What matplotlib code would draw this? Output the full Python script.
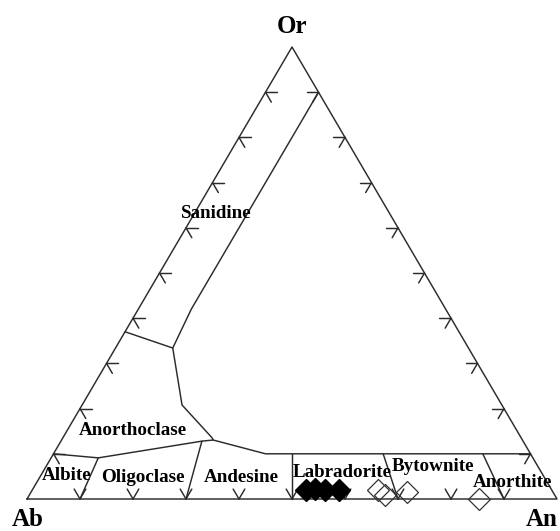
import numpy as np
import matplotlib.pyplot as plt

# feldspar ternary: An (right), Ab (left), Or (top); points given as (An, Or)
sanidine_line = [(0.10, 0.90), (0.10, 0.42), (0.108, 0.334), (0.1885, 0.208), (0.282, 0.135), (0.286, 0.1305)]
sanidine_anorthoclase = [(0.0, 0.37), (0.108, 0.334)]
anorthoclase_base = [(0.0, 0.10), (0.089, 0.091), (0.266, 0.128), (0.286, 0.1305), (0.40, 0.10), (0.90, 0.10)]
plag_dividers = [
    [(0.089, 0.091), (0.10, 0.0)],   # albite / oligoclase
    [(0.266, 0.128), (0.30, 0.0)],   # oligoclase / andesine
    [(0.45, 0.10), (0.50, 0.0)],     # andesine / labradorite
    [(0.622, 0.10), (0.70, 0.0)],    # labradorite / bytownite
    [(0.81, 0.10), (0.90, 0.0)],     # bytownite / anorthite
]

# analysed feldspars
filled_an = [0.516, 0.533, 0.552, 0.578]
filled_or = [0.020, 0.022, 0.020, 0.020]
open_an = [0.652, 0.671, 0.709, 0.853]
open_or = [0.020, 0.009, 0.0155, 0.0]

names = ['Sanidine', 'Anorthoclase', 'Albite', 'Oligoclase', 'Andesine',
         'Labradorite', 'Bytownite', 'Anorthite']
name_pos = [(0.046, 0.622), (0.129, 0.1416), (0.0545, 0.042), (0.200, 0.0376),
            (0.385, 0.0376), (0.570, 0.0487), (0.735, 0.062), (0.902, 0.0265)]

ticks = np.arange(1, 10) / 10


def tern(an, orr):
    an = np.asarray(an, dtype=float)
    orr = np.asarray(orr, dtype=float)
    return an + orr / 2, orr


line_kw = dict(color='#2b2b2b', lw=1.05, solid_capstyle='round')
font = dict(family='Liberation Serif', weight='bold')

fig = plt.figure(figsize=(5.6, 5.31), dpi=100)
ax = fig.add_axes([0, 0, 1, 1])
ax.set_xlim(-27 / 530, 533 / 530)
ax.set_ylim(-32 / 452, 499 / 452)
ax.axis('off')

# outer triangle
x, y = tern([0, 1, 0, 0], [0, 0, 1, 0])
ax.plot(x, y, **line_kw)

# tick marks, drawn along the two other grid directions
t = 0.022
for v in ticks:
    for seg in ([(v, 0), (v, t)], [(v, 0), (v - t, t)],
                [(0, v), (t, v)], [(0, v), (t, v - t)],
                [(1 - v, v), (1 - v - t, v)], [(1 - v, v), (1 - v, v - t)]):
        a, o = zip(*seg)
        ax.plot(*tern(a, o), **line_kw)

# field boundaries
for seg in [sanidine_line, sanidine_anorthoclase, anorthoclase_base] + plag_dividers:
    a, o = zip(*seg)
    ax.plot(*tern(a, o), **line_kw)

ax.plot(*tern(filled_an, filled_or), 'D', ms=11.5, color='black', mec='black', zorder=4)
ax.plot(*tern(open_an, open_or), 'D', ms=11.5, mfc='none', mec='#333333', mew=0.9, zorder=4)

for name, (a, o) in zip(names, name_pos):
    ax.text(*tern(a, o), name, ha='center', va='baseline', fontsize=13.7, zorder=5, **font)

ax.text(0.5, 1.031, 'Or', ha='center', va='baseline', fontsize=18, **font)
ax.text(-15 / 530, -27 / 452, 'Ab', ha='left', va='baseline', fontsize=18, **font)
ax.text(499 / 530, -27 / 452, 'An', ha='left', va='baseline', fontsize=18, **font)

fig.savefig('out.png', dpi=100)
